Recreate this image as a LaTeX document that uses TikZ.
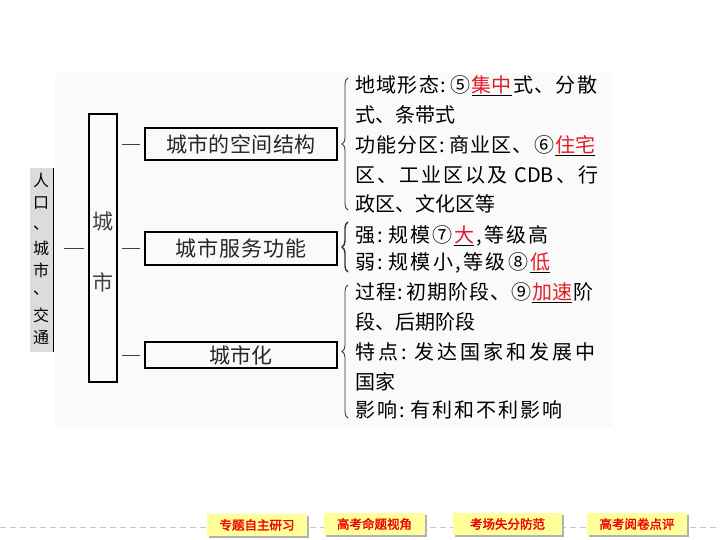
\documentclass[tikz,border=0pt]{standalone}
\usepackage{fontspec}
\setmainfont{Noto Sans CJK SC}
\newfontfamily\cjkbold[FakeBold=2]{Noto Sans CJK SC}
\usetikzlibrary{decorations.pathreplacing,shadows}
\definecolor{hired}{RGB}{226,30,40}
\definecolor{btnred}{RGB}{240,0,0}
\definecolor{btnyellow}{RGB}{255,255,153}
\definecolor{panelgray}{RGB}{220,220,220}
\definecolor{bgpanel}{RGB}{250,250,250}
\newcommand\redul[1]{\underline{\textcolor{hired}{#1}}}
\newcommand\J[2]{\makebox[#1][s]{\spaceskip=0pt plus 1fil\relax #2}}
\begin{document}
\begin{tikzpicture}[x=1pt,y=-1pt,
  txt/.style={font=\fontsize{20}{24}\selectfont, inner sep=0pt, anchor=base west},
  box/.style={draw, line width=1.1pt, minimum width=192pt, font=\fontsize{21}{24}\selectfont, text=black!85, inner sep=0pt},
  conn/.style={draw=black!75, line width=0.8pt},
  brc/.style={draw=black!80, line width=0.8pt, decorate, decoration={brace, amplitude=6pt}},
  btn/.style={fill=btnyellow, minimum height=22pt, inner sep=0pt, text=btnred,
    font=\cjkbold\fontsize{12.5}{14}\selectfont,
    drop shadow={shadow xshift=2pt, shadow yshift=-2pt, fill=black!30, opacity=1}}
]
\useasboundingbox (0,0) rectangle (720,540);
% light background panel
\fill[bgpanel] (55,73) rectangle (612,427);

% left label panel
\node[fill=panelgray, minimum width=23pt, minimum height=184pt, inner sep=0pt] (L) at (41.5,260) {};
\draw[line width=1.2pt] (L.north east) -- (L.south east);
\foreach \c/\y in {人/180, 口/203, 、/228, 城/248, 市/270, 、/293, 交/315, 通/338}
  \node[font=\fontsize{16}{18}\selectfont, inner sep=0pt] at (41,\y) {\c};

% city box
\node[draw, line width=1.1pt, minimum width=28pt, minimum height=268pt, inner sep=0pt] (city) at (103,248) {};
\node[font=\fontsize{21}{24}\selectfont, text=black!75, inner sep=0pt] at (103,222) {城};
\node[font=\fontsize{21}{24}\selectfont, text=black!75, inner sep=0pt] at (103,282) {市};

% second level boxes
\node[box, minimum height=32pt] (b1) at (241,144) {\J{150pt}{城 市 的 空 间 结 构}};
\node[box, minimum height=33pt] (b2) at (241,248.5) {\J{132pt}{城 市 服 务 功 能}};
\node[box, minimum height=26pt] (b3) at (241,355) {\J{64pt}{城 市 化}};

% connectors
\draw[conn, shorten <=11pt, shorten >=4pt] (L.east |- city.west) -- (city.west);
\draw[conn, shorten <=4pt, shorten >=4pt] (city.east |- b1.west) -- (b1.west);
\draw[conn, shorten <=4pt, shorten >=4pt] (city.east |- b2.west) -- (b2.west);
\draw[conn, shorten <=4pt, shorten >=4pt] (city.east |- b3.west) -- (b3.west);

% braces
\draw[brc] (348,210) -- (348,78);
\draw[brc, line width=1.4pt, decoration={brace, amplitude=6pt}] (348,272) -- (348,222);
\draw[brc] (348,418) -- (348,285);

% group 1
\node[txt] (t1) at (355,92.5) {\J{242pt}{地 域 形 态 : ⑤ \redul{集中} 式 、 分 散}};
\node[txt] (t2) at (355,122.5) {式、条带式};
\node[txt] (t3) at (355,152.5) {\J{240pt}{功 能 分 区 : 商 业 区 、 ⑥ \redul{住宅}}};
\node[txt] (t4) at (355,182.5) {\J{243pt}{区 、 工 业 区 以 及\hspace{5pt} CDB 、 行}};
\node[txt] (t5) at (355,211.5) {政区、文化区等};

% group 2
\node[txt] (t6) at (355,242.5) {\J{193pt}{强 : 规 模 ⑦ \redul{大} , 等 级 高}};
\node[txt] (t7) at (355,269.5) {\J{195pt}{弱 : 规 模 小 , 等 级 ⑧ \redul{低}}};

% group 3
\node[txt] (t8) at (355,299.5) {\J{238pt}{过 程 : 初 期 阶 段 、 ⑨ \redul{加速} 阶}};
\node[txt] (t9) at (355,329.5) {段、后期阶段};
\node[txt] (t10) at (355,359.5) {\J{240pt}{特 点 : 发 达 国 家 和 发 展 中}};
\node[txt] (t11) at (355,389.5) {国家};
\node[txt] (t12) at (355,417.5) {\J{207pt}{影 响 : 有 利 和 不 利 影 响}};

% footer
\draw[draw=black!22, line width=1pt, dash pattern=on 6pt off 4pt] (0,527) -- (720,527);
\node[btn, minimum width=100pt] (f1) at (257,525) {专题自主研习};
\node[btn, minimum width=101pt] (f2) at (374.5,524) {高考命题视角};
\node[btn, minimum width=109pt] (f3) at (507.5,524) {考场失分防范};
\node[btn, minimum width=100pt] (f4) at (637,524) {高考阅卷点评};
\end{tikzpicture}
\end{document}
